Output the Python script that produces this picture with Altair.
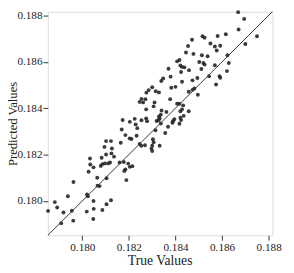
import altair as alt
import pandas as pd

true_values = [
    0.18173, 0.18169, 0.18102, 0.18123, 0.18165, 0.18095, 0.18127, 0.18102, 0.18125, 0.18136,
    0.18033, 0.18083, 0.18034, 0.18048, 0.18079, 0.18086, 0.18097, 0.18111, 0.18119, 0.18160,
    0.18027, 0.18064, 0.17962, 0.18065, 0.18074, 0.18104, 0.17938, 0.18020, 0.18024, 0.18048,
    0.18123, 0.18104, 0.17882, 0.17892, 0.17853, 0.17919, 0.17955, 0.18019, 0.18049, 0.18086,
    0.18047, 0.17961, 0.17909,
    0.18300, 0.18315, 0.18329, 0.18275, 0.18285, 0.18382, 0.18400, 0.18457, 0.18473, 0.18481,
    0.18254, 0.18271, 0.18246, 0.18261, 0.18310, 0.18306, 0.18377, 0.18274, 0.18407, 0.18417,
    0.18433, 0.18428, 0.18421, 0.18457, 0.18340, 0.18361, 0.18337, 0.18329, 0.18332, 0.18319,
    0.18327, 0.18204, 0.18225, 0.18254, 0.18274, 0.18278, 0.18229, 0.18236, 0.18395, 0.18389,
    0.18387, 0.18421, 0.18435, 0.18424, 0.18417, 0.18368, 0.18337, 0.18314, 0.18356, 0.18185,
    0.18203, 0.18211, 0.18233, 0.18246, 0.18253, 0.18269, 0.18303, 0.18306, 0.18300, 0.18297,
    0.18332, 0.18300,
    0.18178, 0.18197, 0.18204, 0.18215, 0.18185, 0.18180, 0.18189,
    0.18471, 0.18454, 0.18445, 0.18477, 0.18407, 0.18417, 0.18421, 0.18428, 0.18438, 0.18458,
    0.18424, 0.18370, 0.18379, 0.18347, 0.18339, 0.18428, 0.18473, 0.18494,
    0.18669, 0.18695, 0.18671, 0.18516, 0.18525, 0.18581, 0.18616, 0.18750, 0.18700, 0.18550,
    0.18569, 0.18592, 0.18577, 0.18513, 0.18538, 0.18623, 0.18502, 0.18520, 0.18525, 0.18629,
    0.18569, 0.18511, 0.18621, 0.18544, 0.18589, 0.18592, 0.18574, 0.18496,
]

predicted_values = [
    0.18349, 0.18308, 0.18258, 0.18258, 0.18251, 0.18233, 0.18226, 0.18200, 0.18205, 0.18191,
    0.18183, 0.18186, 0.18157, 0.18145, 0.18151, 0.18159, 0.18162, 0.18162, 0.18166, 0.18166,
    0.18126, 0.18100, 0.18082, 0.18066, 0.18064, 0.18098, 0.18020, 0.18028, 0.18020, 0.18000,
    0.18003, 0.17986, 0.17995, 0.17972, 0.17957, 0.17950, 0.17958, 0.17954, 0.17966, 0.17961,
    0.17922, 0.17915, 0.17904,
    0.18490, 0.18473, 0.18468, 0.18467, 0.18478, 0.18488, 0.18492, 0.18471, 0.18479, 0.18485,
    0.18440, 0.18439, 0.18427, 0.18425, 0.18425, 0.18408, 0.18439, 0.18395, 0.18419, 0.18419,
    0.18412, 0.18395, 0.18387, 0.18387, 0.18390, 0.18384, 0.18372, 0.18364, 0.18356, 0.18345,
    0.18348, 0.18341, 0.18354, 0.18348, 0.18356, 0.18344, 0.18330, 0.18314, 0.18352, 0.18344,
    0.18337, 0.18359, 0.18367, 0.18349, 0.18333, 0.18320, 0.18334, 0.18305, 0.18293, 0.18284,
    0.18270, 0.18267, 0.18281, 0.18246, 0.18238, 0.18240, 0.18266, 0.18253, 0.18238, 0.18225,
    0.18238, 0.18215,
    0.18168, 0.18161, 0.18147, 0.18150, 0.18136, 0.18129, 0.18090,
    0.18695, 0.18668, 0.18640, 0.18634, 0.18602, 0.18608, 0.18584, 0.18578, 0.18576, 0.18564,
    0.18556, 0.18570, 0.18536, 0.18528, 0.18517, 0.18514, 0.18520, 0.18530,
    0.18814, 0.18785, 0.18739, 0.18710, 0.18704, 0.18711, 0.18719, 0.18710, 0.18677, 0.18679,
    0.18666, 0.18669, 0.18649, 0.18628, 0.18624, 0.18628, 0.18599, 0.18595, 0.18588, 0.18595,
    0.18585, 0.18569, 0.18560, 0.18538, 0.18538, 0.18531, 0.18502, 0.18458,
]

axis_range = [0.17852, 0.18816]
tick_values = [0.180, 0.182, 0.184, 0.186, 0.188]

points = pd.DataFrame({"true": true_values, "pred": predicted_values})
diag = pd.DataFrame({"true": axis_range, "pred": axis_range})

FONT = "Liberation Serif"

x_scale = alt.Scale(domain=axis_range, nice=False, zero=False)
y_scale = alt.Scale(domain=axis_range, nice=False, zero=False)

x_axis = alt.Axis(title="True Values", values=tick_values, format=".3f", grid=False,
                  domain=False, tickSize=5, tickColor="#333", labelFont=FONT, labelFontSize=11.5,
                  labelColor="#222", titleFont=FONT, titleFontSize=14, titleFontWeight="normal",
                  titleColor="#222", labelPadding=2,
                  titleX=115, titleY=26, titleAlign="center", titleBaseline="middle")
y_axis = alt.Axis(title="Predicted Values", values=tick_values, format=".3f", grid=False,
                  domain=False, tickSize=5, tickColor="#333", labelFont=FONT, labelFontSize=11.5,
                  labelColor="#222", titleFont=FONT, titleFontSize=13, titleFontWeight="normal",
                  titleColor="#222", labelPadding=1,
                  titleX=-32.5, titleY=115, titleAngle=270, titleAlign="center",
                  titleBaseline="alphabetic")

scatter = alt.Chart(points).mark_circle(size=16, color="#262626", opacity=0.9).encode(
    x=alt.X("true:Q", scale=x_scale, axis=x_axis),
    y=alt.Y("pred:Q", scale=y_scale, axis=y_axis),
)

line = alt.Chart(diag).mark_line(color="#333", strokeWidth=1).encode(
    x=alt.X("true:Q", scale=x_scale),
    y=alt.Y("pred:Q", scale=y_scale),
)

chart = alt.layer(scatter, line).properties(
    width=231, height=230,
    autosize=alt.AutoSizeParams(type="none"),
    padding={"left": 41, "top": 0, "right": 14, "bottom": 35},
).configure_view(stroke="#555", strokeWidth=1.2).configure(background="white")

chart.save("out.html", embed_options={"renderer": "svg", "actions": False})
